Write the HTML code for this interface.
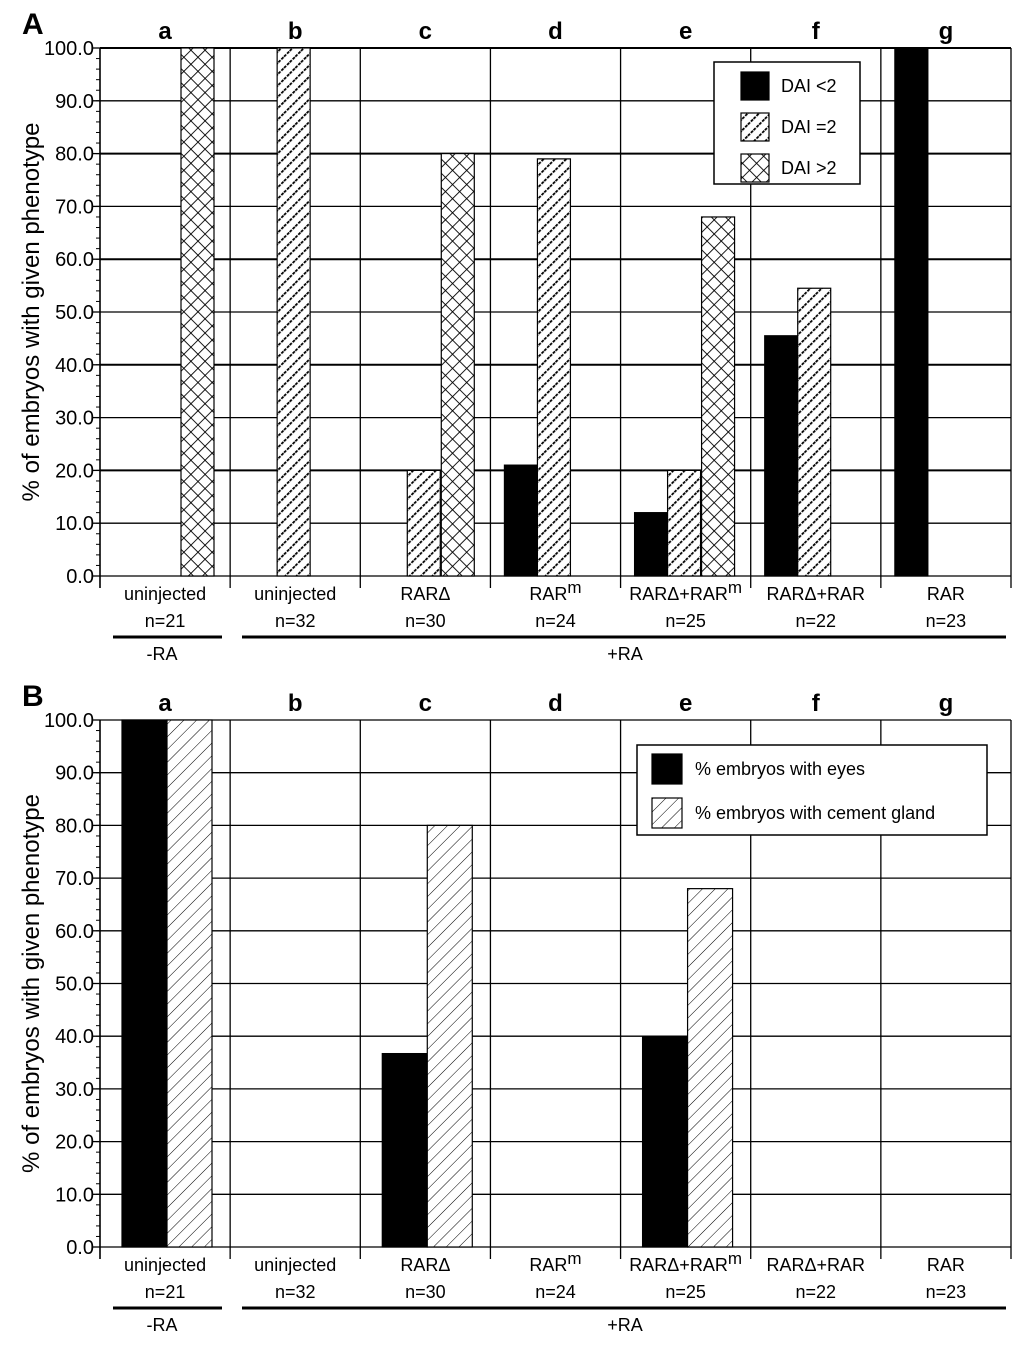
<!DOCTYPE html>
<html><head><meta charset="utf-8"><style>
body{margin:0;background:#fff}
svg{display:block;font-family:"Liberation Sans",sans-serif}
</style></head><body>
<svg id="fig" width="1028" height="1347" viewBox="0 0 1028 1347">
<defs>
<pattern id="hatchA" patternUnits="userSpaceOnUse" width="8" height="8" patternTransform="rotate(45)">
<rect width="8" height="8" fill="#fff"/><line x1="0" y1="0" x2="0" y2="8" stroke="#000" stroke-width="3.6" stroke-dasharray="3,1.2"/></pattern>
<pattern id="crossA" patternUnits="userSpaceOnUse" width="10" height="10" patternTransform="rotate(45)">
<rect width="10" height="10" fill="#fff"/><line x1="0" y1="0" x2="0" y2="10" stroke="#000" stroke-width="1.8"/><line x1="0" y1="0" x2="10" y2="0" stroke="#000" stroke-width="1.8"/></pattern>
<pattern id="hatchB" patternUnits="userSpaceOnUse" width="9" height="9" patternTransform="rotate(45)">
<rect width="9" height="9" fill="#fff"/><line x1="0" y1="0" x2="0" y2="9" stroke="#000" stroke-width="1"/></pattern>
</defs>
</svg>
<script>
const categories=['a','b','c','d','e','f','g'];
const labelsTop=['uninjected','uninjected','RARΔ','RAR^m','RARΔ+RAR^m','RARΔ+RAR','RAR'];
const labelsN=['n=21','n=32','n=30','n=24','n=25','n=22','n=23'];
const yTicks=[0,10,20,30,40,50,60,70,80,90,100];
const aLess2=[0,0,0,21,12,45.5,100];
const aEq2=[0,100,20,79,20,54.5,0];
const aMore2=[100,0,80,0,68,0,0];
const bEyes=[100,0,36.7,0,40,0,0];
const bCement=[100,0,80,0,68,0,0];

const svg=document.getElementById('fig');
const NS='http://www.w3.org/2000/svg';
function el(tag,attrs,parent){const e=document.createElementNS(NS,tag);for(const k in attrs)e.setAttribute(k,attrs[k]);(parent||svg).appendChild(e);return e;}
function txt(s,x,y,size,anchor,weight,parent){const t=el('text',{x:x,y:y,'font-size':size,'text-anchor':anchor||'middle','font-weight':weight||'normal'},parent);
  const parts=s.split('^');t.appendChild(document.createTextNode(parts[0]));
  if(parts[1]){const sp=el('tspan',{dy:-7,'font-size':size-1},t);sp.textContent=parts[1];}
  return t;}

const X0=100,X1=1011,colW=(X1-X0)/7;
function xCol(i){return X0+i*colW;}

function panel(cfg){
  const g=el('g',{});
  
  
  const y=v=>cfg.y0-(cfg.y0-cfg.y100)*v/100;
  yTicks.forEach(v=>{const l=el('line',{x1:X0,x2:X1,y1:y(v),y2:y(v),stroke:'#000','stroke-width':v%20==0&&v>0&&cfg.bold?2:1.3},g);
    
    const t=txt(v.toFixed(1),94,y(v)+7,20,'end','normal',g);
    
    el('line',{x1:X0-8,x2:X0,y1:y(v),y2:y(v),stroke:'#000','stroke-width':1.3},g);});
  for(let v=0;v<100;v+=2){el('line',{x1:X0-4,x2:X0,y1:y(v),y2:y(v),stroke:'#000','stroke-width':1},g);}
  for(let i=0;i<=7;i++){const l=el('line',{x1:xCol(i),x2:xCol(i),y1:cfg.y100,y2:cfg.y0+12,stroke:'#000','stroke-width':i==0?1.6:1.3},g);
    }
  cfg.series.forEach((s,si)=>{s.vals.forEach((v,i)=>{if(v<=0)return;
    const x=xCol(i)+cfg.off[si];const r=el('rect',{x:x,y:y(v),width:cfg.bw,height:y(0)-y(v),fill:s.fill,stroke:'#000','stroke-width':1.2},g);
    });});
  categories.forEach((c,i)=>{const cx=xCol(i)+colW/2;
    const t=txt(c,cx,cfg.y100-9,24,'middle','bold',g);
    const a=txt(labelsTop[i],cx,cfg.y0+24,18,'middle','normal',g);
    const n=txt(labelsN[i],cx,cfg.y0+51,18,'middle','normal',g);});
  el('line',{x1:113,x2:222,y1:cfg.y0+61,y2:cfg.y0+61,stroke:'#000','stroke-width':3},g);
  el('line',{x1:242,x2:1006,y1:cfg.y0+61,y2:cfg.y0+61,stroke:'#000','stroke-width':3},g);
  let t=txt('-RA',162,cfg.y0+84,18,'middle','normal',g);
  t=txt('+RA',625,cfg.y0+84,18,'middle','normal',g);
  t=txt(cfg.letter,22,cfg.y100-14,30,'start','bold',g);
  const cy=(cfg.y0+cfg.y100)/2;
  t=el('text',{x:0,y:0,'font-size':24,'text-anchor':'middle',transform:`translate(39,${cy}) rotate(-90)`},g);
  t.textContent='% of embryos with given phenotype';
  const L=cfg.legend;const lg=el('g',{},g);
  el('rect',{x:L.x,y:L.y,width:L.w,height:L.h,fill:'#fff',stroke:'#000','stroke-width':1.5},lg);
  cfg.series.forEach((s,si)=>{const ey=L.y+L.pad+si*L.step;
    const e=el('g',{},lg);
    el('rect',{x:L.x+L.sx,y:ey,width:L.sw,height:L.sh,fill:s.fill,stroke:'#000','stroke-width':1.2},e);
    txt(s.label,L.x+L.tx,ey+L.sh/2+6,L.fs,'start','normal',e);});
}

panel({name:'panel-a',letter:'A',y0:576,y100:48,bold:true,bw:33,off:[14,47,81],
  series:[{key:'dai-lt2',vals:aLess2,fill:'#000',label:'DAI <2'},{key:'dai-eq2',vals:aEq2,fill:'url(#hatchA)',label:'DAI =2'},{key:'dai-gt2',vals:aMore2,fill:'url(#crossA)',label:'DAI >2'}],
  legend:{x:714,y:62,w:146,h:122,pad:10,step:41,sx:27,sw:28,sh:28,tx:67,fs:18}});
panel({name:'panel-b',letter:'B',y0:1247,y100:720,bold:false,bw:45,off:[22,67],
  series:[{key:'eyes',vals:bEyes,fill:'#000',label:'% embryos with eyes'},{key:'cement-gland',vals:bCement,fill:'url(#hatchB)',label:'% embryos with cement gland'}],
  legend:{x:637,y:745,w:350,h:90,pad:9,step:44,sx:15,sw:30,sh:30,tx:58,fs:18}});
</script>
</body></html>
